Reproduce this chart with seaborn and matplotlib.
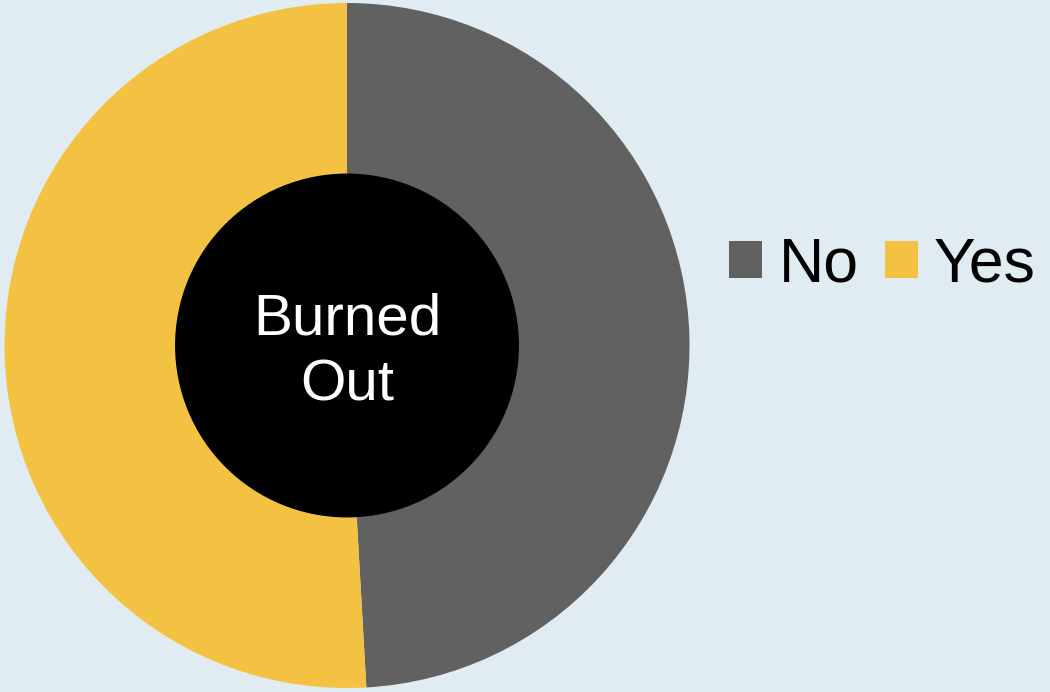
import matplotlib
matplotlib.use("Agg")
import matplotlib.pyplot as plt
from matplotlib.patches import Patch, Circle
import seaborn as sns

labels = ["No", "Yes"]
shares = [49.1, 50.9]
colors = ["#616161", "#f4c243"]
center_label = "Burned\nOut"
bg = "#e0ecf2"

sns.set_theme(style="white")
plt.rcParams["font.family"] = ["Liberation Sans", "DejaVu Sans"]
plt.rcParams["text.color"] = "black"

W, H = 1050, 692
fig = plt.figure(figsize=(W / 100, H / 100), dpi=100, facecolor=bg)

cx, cy, r = 347, 345.5, 342.5
ax = fig.add_axes([(cx - r) / W, (H - cy - r) / H, 2 * r / W, 2 * r / H])
ax.set_facecolor(bg)

ax.pie(shares, colors=colors, startangle=90, counterclock=False, radius=1,
       wedgeprops=dict(width=0.5, linewidth=0))
ax.add_patch(Circle((0, 0), 0.5, color="black", zorder=3))
ax.text(0, -0.02, center_label, ha="center", va="center", color="white",
        fontsize=42, linespacing=1.3, zorder=4)
ax.set_xlim(-1, 1)
ax.set_ylim(-1, 1)
ax.set_aspect("equal")
ax.axis("off")

handles = [Patch(facecolor=c, edgecolor="none", label=l) for c, l in zip(colors, labels)]
fig.legend(handles=handles, loc="center left", bbox_to_anchor=(729 / W, 1 - 265 / H),
           ncol=2, frameon=False, fontsize=45, handlelength=0.53, handleheight=0.53,
           handletextpad=0.26, columnspacing=0.42, borderpad=0, borderaxespad=0,
           labelcolor="black")

fig.savefig("out.png", dpi=100, facecolor=bg)
